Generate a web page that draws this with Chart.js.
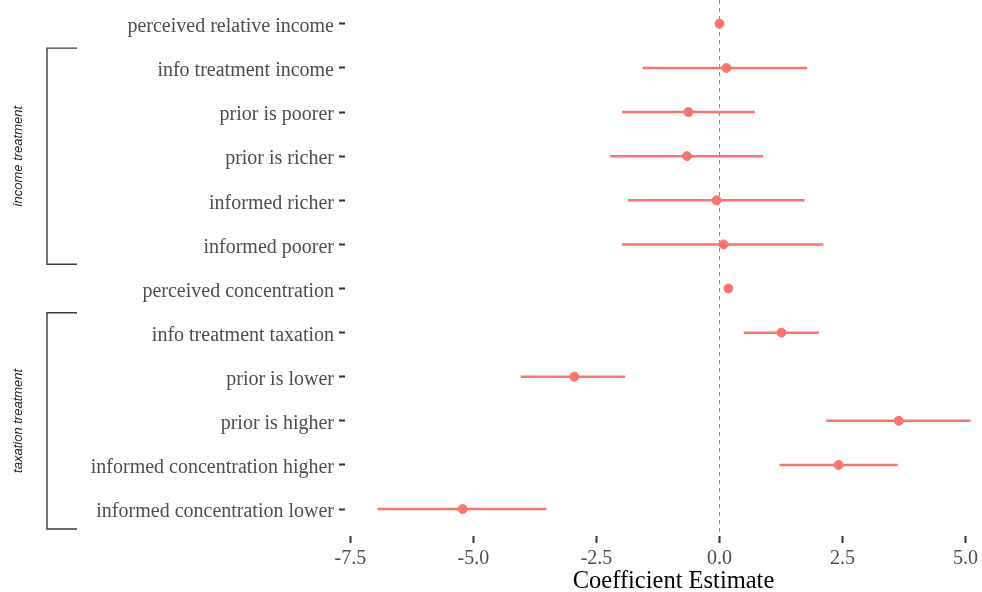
<!DOCTYPE html>
<html>
<head>
<meta charset="utf-8">
<script src="https://cdn.jsdelivr.net/npm/chart.js@4"></script>
<style>
    html, body { margin: 0; padding: 0; background: #fff; overflow: hidden; }
    /* panel runs a little past the right edge, like the cropped original */
    #wrap { width: 1002px; height: 592px; position: relative; }
</style>
</head>
<body>
<div id="wrap"><canvas id="coefChart"></canvas></div>
<script>
// Coefficient plot data (top to bottom)
const terms = [
    'perceived relative income',
    'info treatment income',
    'prior is poorer',
    'prior is richer',
    'informed richer',
    'informed poorer',
    'perceived concentration',
    'info treatment taxation',
    'prior is lower',
    'prior is higher',
    'informed concentration higher',
    'informed concentration lower'
];
const estimates = [0.00, 0.14, -0.63, -0.66, -0.06, 0.08, 0.18, 1.26, -2.95, 3.64, 2.42, -5.22];
const lowerCI   = [-0.03, -1.56, -1.98, -2.22, -1.86, -1.98, 0.15, 0.49, -4.04, 2.17, 1.22, -6.95];
const upperCI   = [0.03, 1.78, 0.72, 0.89, 1.73, 2.11, 0.21, 2.02, -1.92, 5.10, 3.62, -3.52];

const xTicks = [-7.5, -5.0, -2.5, 0.0, 2.5, 5.0];

// bracket groups on the left (row numbers, 1-based)
const groupLabels = ['income treatment', 'taxation treatment'];
const groupFirst = [2, 8];
const groupLast = [6, 12];

const SERIF = "'Liberation Serif', 'Times New Roman', serif";
const SANS = "'Liberation Sans', Arial, sans-serif";
const RED = '#F8766D';

// no extra room for half labels at the ends of the axes
function noEndPadding(scale) {
    scale.paddingTop = 0;
    scale.paddingBottom = 0;
    scale.paddingLeft = 0;
    scale.paddingRight = 0;
}

// zero line, confidence intervals and group brackets
const coefDecor = {
    id: 'coefDecor',
    beforeDatasetsDraw(chart) {
        const { ctx, chartArea, scales: { x, y } } = chart;
        const x0 = x.getPixelForValue(0);

        ctx.save();
        ctx.strokeStyle = '#8c8c8c';
        ctx.lineWidth = 1;
        ctx.setLineDash([4, 4]);
        ctx.beginPath();
        ctx.moveTo(x0, chartArea.top);
        ctx.lineTo(x0, chartArea.bottom);
        ctx.stroke();
        ctx.setLineDash([]);

        ctx.strokeStyle = RED;
        ctx.lineWidth = 2.5;
        terms.forEach((t, i) => {
            const py = y.getPixelForValue(i + 1);
            ctx.beginPath();
            ctx.moveTo(x.getPixelForValue(lowerCI[i]), py);
            ctx.lineTo(x.getPixelForValue(upperCI[i]), py);
            ctx.stroke();
        });
        ctx.restore();
    },
    afterDraw(chart) {
        const { ctx, scales: { y } } = chart;
        ctx.save();
        groupLabels.forEach((label, g) => {
            const top = y.getPixelForValue(groupFirst[g] - 0.45);
            const bottom = y.getPixelForValue(groupLast[g] + 0.45);

            ctx.strokeStyle = '#3a3a3a';
            ctx.lineWidth = 1.4;
            ctx.beginPath();
            ctx.moveTo(77, top);
            ctx.lineTo(47, top);
            ctx.lineTo(47, bottom);
            ctx.lineTo(77, bottom);
            ctx.stroke();

            ctx.translate(18, (top + bottom) / 2);
            ctx.rotate(-Math.PI / 2);
            ctx.fillStyle = '#1a1a1a';
            ctx.font = 'italic 13px ' + SANS;
            ctx.textAlign = 'center';
            ctx.textBaseline = 'middle';
            ctx.fillText(label, 0, 0);
            ctx.setTransform(1, 0, 0, 1, 0, 0);
        });
        ctx.restore();
    }
};

const points = estimates.map((v, i) => ({ x: v, y: i + 1 }));

new Chart(document.getElementById('coefChart'), {
    type: 'scatter',
    data: {
        datasets: [{
            data: points,
            backgroundColor: RED,
            borderColor: RED,
            pointRadius: 4.5,
            pointHoverRadius: 4.5
        }]
    },
    options: {
        responsive: true,
        maintainAspectRatio: false,
        animation: false,
        layout: { padding: 0, autoPadding: false },
        plugins: {
            legend: { display: false },
            tooltip: { enabled: false }
        },
        scales: {
            x: {
                type: 'linear',
                min: -7.61,
                max: 5.74,
                afterBuildTicks: (scale) => {
                    scale.ticks = xTicks.map(v => ({ value: v }));
                },
                afterFit: (scale) => {
                    scale.height = 56;
                    noEndPadding(scale);
                },
                border: { display: false },
                grid: {
                    display: true,
                    drawOnChartArea: false,
                    drawTicks: true,
                    tickLength: 7,
                    tickWidth: 2,
                    tickColor: '#333333'
                },
                ticks: {
                    padding: 4,
                    color: '#4d4d4d',
                    font: { family: SERIF, size: 20 },
                    callback: (v) => Number(v).toFixed(1)
                },
                title: {
                    display: true,
                    text: 'Coefficient Estimate',
                    color: '#000000',
                    font: { family: SERIF, size: 24.5, lineHeight: 1 },
                    padding: { top: 0, bottom: -2 }
                }
            },
            y: {
                type: 'linear',
                reverse: true,
                min: 0.46,
                max: 12.61,
                afterBuildTicks: (scale) => {
                    scale.ticks = terms.map((t, i) => ({ value: i + 1 }));
                },
                afterFit: (scale) => {
                    scale.width = 345;
                    noEndPadding(scale);
                },
                border: { display: false },
                grid: {
                    display: true,
                    drawOnChartArea: false,
                    drawTicks: true,
                    tickLength: 6,
                    tickWidth: 2,
                    tickColor: '#333333'
                },
                ticks: {
                    padding: 5,
                    labelOffset: 3,
                    color: '#4d4d4d',
                    font: { family: SERIF, size: 20 },
                    callback: (v) => terms[v - 1]
                }
            }
        }
    },
    plugins: [coefDecor]
});
</script>
</body>
</html>
